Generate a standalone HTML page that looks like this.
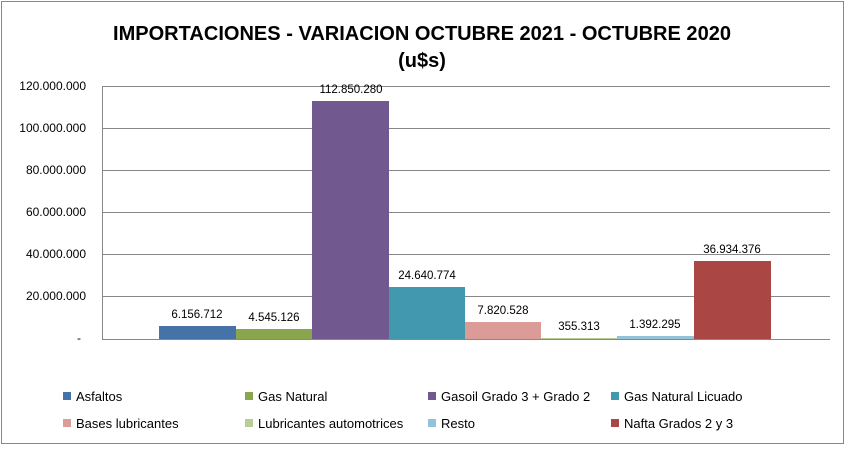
<!DOCTYPE html>
<html><head><style>
body{margin:0;background:#fff;}
svg text{font-family:"Liberation Sans",sans-serif;}
</style></head><body>
<svg width="845" height="445" viewBox="0 0 845 445">
<rect x="1.5" y="1.5" width="842" height="442" fill="#fff" stroke="#888"/>
<text x="422" y="40" text-anchor="middle" font-size="20" font-weight="bold" textLength="618" lengthAdjust="spacingAndGlyphs">IMPORTACIONES - VARIACION OCTUBRE 2021 - OCTUBRE 2020</text>
<text x="422" y="67" text-anchor="middle" font-size="20" font-weight="bold">(u$s)</text>
<g stroke="#888" stroke-width="1">
<line x1="102" y1="86.5" x2="830" y2="86.5"/>
<line x1="102" y1="128.5" x2="830" y2="128.5"/>
<line x1="102" y1="170.5" x2="830" y2="170.5"/>
<line x1="102" y1="212.5" x2="830" y2="212.5"/>
<line x1="102" y1="254.5" x2="830" y2="254.5"/>
<line x1="102" y1="296.5" x2="830" y2="296.5"/>
<line x1="102" y1="339.5" x2="830" y2="339.5"/>
<line x1="102.5" y1="86" x2="102.5" y2="340"/>
</g>
<g font-size="12" text-anchor="end">
<text x="86" y="90">120.000.000</text>
<text x="86" y="132">100.000.000</text>
<text x="86" y="174">80.000.000</text>
<text x="86" y="216">60.000.000</text>
<text x="86" y="258">40.000.000</text>
<text x="86" y="300">20.000.000</text>
<text x="81" y="342">-</text>
</g>
<rect x="159" y="326" width="77" height="13" fill="#4572a7"/>
<rect x="236" y="329" width="76" height="10" fill="#89a54e"/>
<rect x="312" y="101" width="77" height="238" fill="#71588f"/>
<rect x="389" y="287" width="76" height="52" fill="#4198af"/>
<rect x="465" y="322" width="76" height="17" fill="#db9b96"/>
<rect x="541" y="338" width="76" height="1" fill="#b9cd96"/>
<rect x="617" y="336" width="77" height="3" fill="#93c3d8"/>
<rect x="694" y="261" width="77" height="78" fill="#aa4643"/>
<g font-size="11.5" text-anchor="middle">
<text x="197" y="318">6.156.712</text>
<text x="274" y="321">4.545.126</text>
<text x="351" y="93">112.850.280</text>
<text x="427" y="279">24.640.774</text>
<text x="503" y="314">7.820.528</text>
<text x="579" y="330">355.313</text>
<text x="655" y="328">1.392.295</text>
<text x="732" y="253">36.934.376</text>
</g>
<g font-size="13">
<rect x="63" y="392" width="8" height="8" fill="#4572a7"/><text x="76" y="401">Asfaltos</text>
<rect x="245" y="392" width="8" height="8" fill="#89a54e"/><text x="258" y="401">Gas Natural</text>
<rect x="428" y="392" width="8" height="8" fill="#71588f"/><text x="441" y="401">Gasoil Grado 3 + Grado 2</text>
<rect x="611" y="392" width="8" height="8" fill="#4198af"/><text x="624" y="401">Gas Natural Licuado</text>
<rect x="63" y="419" width="8" height="8" fill="#db9b96"/><text x="76" y="428">Bases lubricantes</text>
<rect x="245" y="419" width="8" height="8" fill="#b9cd96"/><text x="258" y="428">Lubricantes automotrices</text>
<rect x="428" y="419" width="8" height="8" fill="#93c3d8"/><text x="441" y="428">Resto</text>
<rect x="611" y="419" width="8" height="8" fill="#aa4643"/><text x="624" y="428">Nafta Grados 2 y 3</text>
</g>
</svg>
</body></html>
